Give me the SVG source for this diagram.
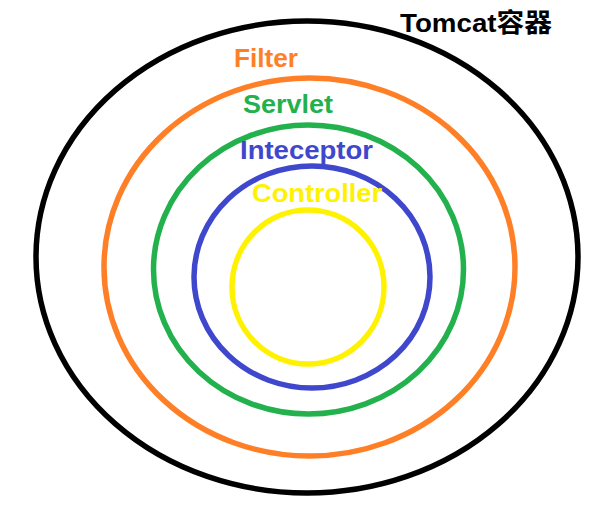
<svg xmlns="http://www.w3.org/2000/svg" width="611" height="512" viewBox="0 0 611 512">
<style>
.ring{fill:none;stroke-width:5.5}
.lbl{font-family:"Liberation Sans","Noto Sans CJK SC",sans-serif;font-weight:bold;font-size:26px}
</style>
<rect width="611" height="512" fill="#fff"/>
<g id="tomcat">
<ellipse class="ring" cx="307" cy="257" rx="271" ry="236" stroke="#000"/>
<text class="lbl" x="400" y="32" fill="#000" textLength="152" lengthAdjust="spacingAndGlyphs">Tomcat容器</text>
</g>
<g id="filter">
<ellipse class="ring" cx="309.5" cy="267" rx="205.5" ry="189" stroke="#FF7F27"/>
<text class="lbl" x="234" y="67" fill="#FF7F27" textLength="64" lengthAdjust="spacingAndGlyphs">Filter</text>
</g>
<g id="servlet">
<ellipse class="ring" cx="308.5" cy="269.5" rx="155" ry="144.5" stroke="#22B14C"/>
<text class="lbl" x="243" y="113" fill="#22B14C" textLength="90" lengthAdjust="spacingAndGlyphs">Servlet</text>
</g>
<g id="interceptor">
<ellipse class="ring" cx="312" cy="277" rx="118" ry="111" stroke="#3F48CC"/>
<text class="lbl" x="240" y="159" fill="#3F48CC" textLength="133" lengthAdjust="spacingAndGlyphs">Inteceptor</text>
</g>
<g id="controller">
<ellipse class="ring" cx="308" cy="287" rx="76" ry="77" stroke="#FFF200"/>
<text class="lbl" x="252" y="202" fill="#FFF200" textLength="130" lengthAdjust="spacingAndGlyphs">Controller</text>
</g>
<g id="connectors"></g>
</svg>
